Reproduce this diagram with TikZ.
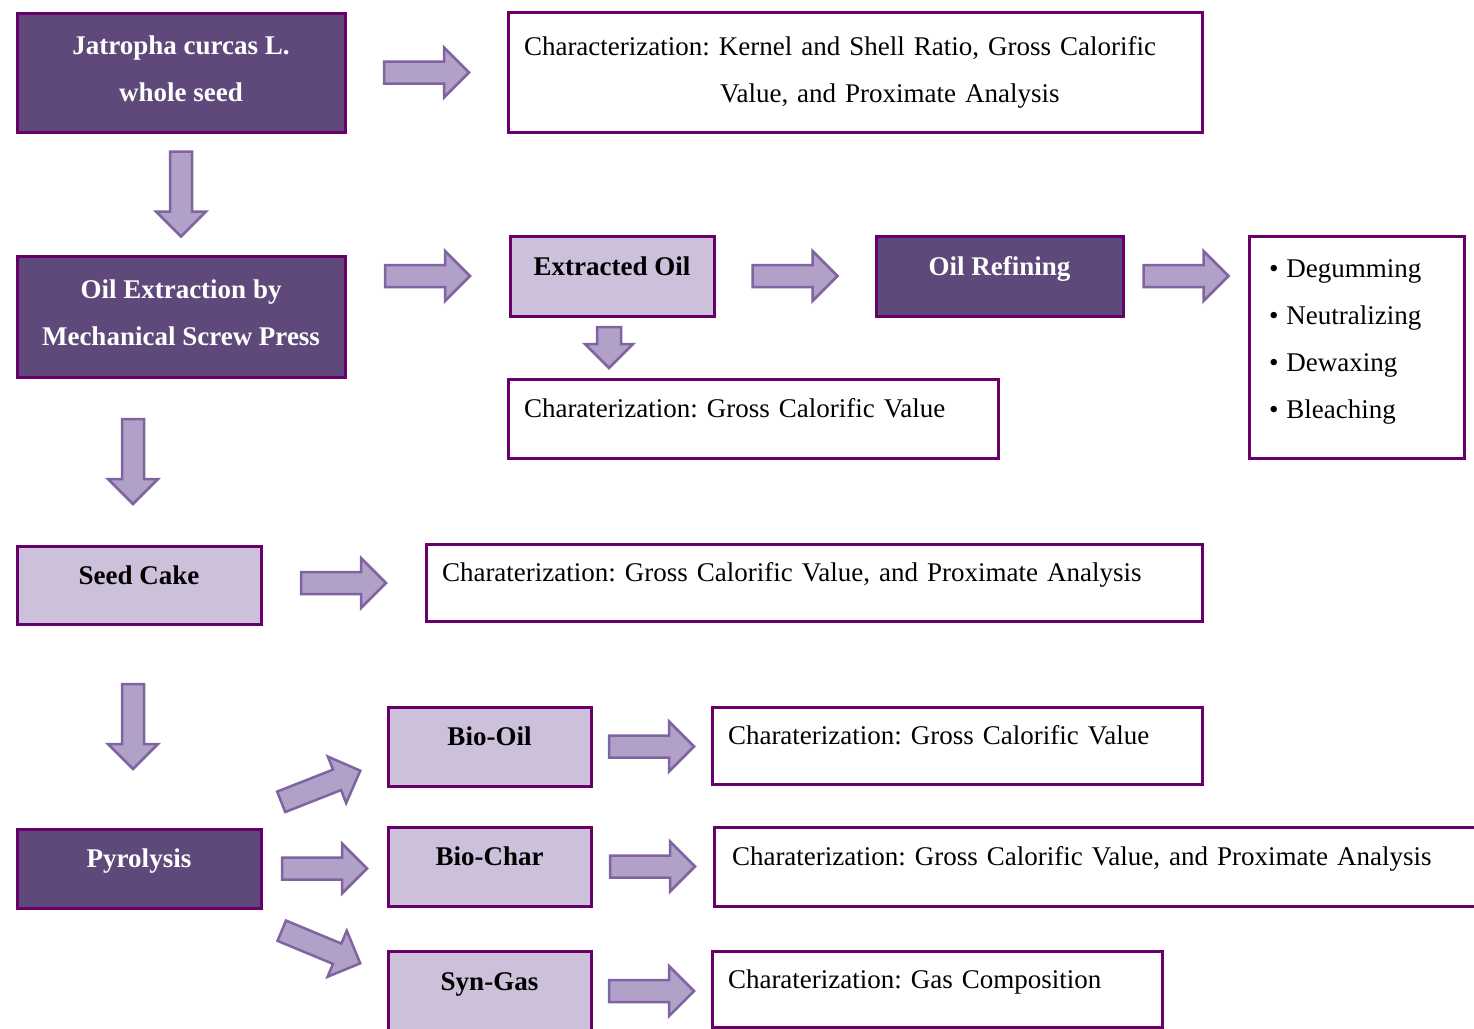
\documentclass[tikz,border=0pt]{standalone}
\usepackage{fontspec}
\setmainfont{Liberation Serif}
\usepackage{xcolor}
\usetikzlibrary{calc}

\definecolor{darkbox}{HTML}{5F497A}
\definecolor{boxline}{HTML}{690069}
\definecolor{lightbox}{HTML}{CCC0DA}
\definecolor{arrowfill}{HTML}{B1A0C7}
\definecolor{arrowline}{HTML}{8064A2}
\frenchspacing

\begin{document}
\begin{tikzpicture}[
    x=0.5pt, y=-0.5pt,
    box/.style={rectangle, draw=boxline, line width=1.5pt, inner sep=0pt, align=center, font=\bfseries\fontsize{13.5}{23.5}\selectfont},
    dark/.style={box, fill=darkbox, text=white},
    light/.style={box, fill=lightbox, text=black, oneline},
    info/.style={box, fill=white, align=left, inner xsep=8pt, font=\fontsize{13.5}{23.5}\selectfont},
    oneline/.style={text height=9.5pt, text depth=10.5pt},
    blkline/.style={draw=arrowline, fill=arrowfill, line width=1.25pt},
    blk/.pic={\draw[blkline] (-42.5,-11) -- (17.5,-11) -- (17.5,-25) -- (42.5,0) -- (17.5,25) -- (17.5,11) -- (-42.5,11) -- cycle;},
    blksmall/.pic={\draw[blkline] (-20.5,-12) -- (-3.5,-12) -- (-3.5,-24) -- (20.5,0) -- (-3.5,24) -- (-3.5,12) -- (-20.5,12) -- cycle;},
]
\useasboundingbox (0,0) rectangle (1474,1029);

% Nodes
\node[dark, minimum width=164pt, minimum height=59.5pt, text depth=4pt] (seed) at (181,72.5) {Jatropha curcas L.\\whole seed};
\node[info, text width=331pt, minimum height=60pt] (char1) at (855,72) {Characterization: Kernel and Shell Ratio, Gross Calorific\\\hspace*{98pt}Value, and Proximate Analysis};

\node[dark, minimum width=164pt, minimum height=60.5pt, text depth=4pt] (oilext) at (181,316.5) {Oil Extraction by\\Mechanical Screw Press};
\node[light, minimum width=102pt, minimum height=40pt] (extoil) at (612,276) {Extracted Oil};
\node[dark, oneline, minimum width=123.5pt, minimum height=40pt] (refine) at (999.5,276) {Oil Refining};
\node[info, text width=87.5pt, inner xsep=10pt, minimum height=111pt, text depth=78pt] (steps) at (1356.5,347)
  {\textbullet\hspace{4pt}Degumming\\\textbullet\hspace{4pt}Neutralizing\\\textbullet\hspace{4pt}Dewaxing\\\textbullet\hspace{4pt}Bleaching};
\node[info, oneline, text width=229pt, minimum height=39.5pt] (char2) at (753,418.5) {Charaterization: Gross Calorific Value};

\node[light, minimum width=122pt, minimum height=39pt] (cake) at (139,585) {Seed Cake};
\node[info, oneline, text width=372pt, minimum height=38.5pt] (char3) at (814,582.5) {Charaterization: Gross Calorific Value, and Proximate Analysis};

\node[dark, oneline, minimum width=122pt, minimum height=39.5pt] (pyro) at (139,868.5) {Pyrolysis};
\node[light, minimum width=101.5pt, minimum height=39.5pt] (biooil) at (489.5,746.5) {Bio-Oil};
\node[light, minimum width=101.5pt, minimum height=39.5pt] (biochar) at (489.5,866.5) {Bio-Char};
\node[light, minimum width=101.5pt, minimum height=40pt] (syngas) at (489.5,991) {Syn-Gas};
\node[info, oneline, text width=229pt, minimum height=38.5pt] (char4) at (957,745.5) {Charaterization: Gross Calorific Value};
\node[info, oneline, text width=365pt, inner xsep=9pt, minimum height=39.5pt] (char5) at (1097,866.5) {Charaterization: Gross Calorific Value, and Proximate Analysis};
\node[info, oneline, text width=209pt, minimum height=38pt] (char6) at (937,989) {Charaterization: Gas Composition};

% Arrows
\path (seed.east) -- (seed.east -| char1.west) pic[midway, sloped, allow upside down] {blk};
\path (seed.south) -- (oilext.north) pic[midway, sloped, allow upside down] {blk};
\path (oilext.east |- extoil.west) -- (extoil.west) pic[midway, sloped, allow upside down] {blk};
\path (extoil.east) -- (refine.west) pic[midway, sloped, allow upside down] {blk};
\path (refine.east) -- (steps.west |- refine.east) pic[midway, sloped, allow upside down] {blk};
\path ([xshift=-1.5pt]extoil.south) -- ([xshift=-1.5pt]extoil.south |- char2.north) pic[midway, sloped, allow upside down] {blksmall};
\path ([xshift=-3pt]cake.north |- oilext.south) -- ([xshift=-3pt]cake.north) pic[midway, sloped, allow upside down] {blk};
\path ([yshift=1pt]cake.east) -- ([yshift=1pt]cake.east -| char3.west) pic[midway, sloped, allow upside down] {blk};
\path ([xshift=-3pt]cake.south) -- ([xshift=-3pt]pyro.north) pic[midway, sloped, allow upside down] {blk};
\path ($(pyro.east)+(19.5,-67)$) -- ($(biooil.west)+(-27,24.5)$) pic[midway, sloped, allow upside down] {blk};
\path (pyro.east) -- (pyro.east -| biochar.west) pic[midway, sloped, allow upside down] {blk};
\path ($(pyro.east)+(20,62.5)$) -- ($(syngas.west)+(-27,-28)$) pic[midway, sloped, allow upside down] {blk};
\path (biooil.east) -- (biooil.east -| char4.west) pic[midway, sloped, allow upside down] {blk};
\path (biochar.east) -- (biochar.east -| char5.west) pic[midway, sloped, allow upside down] {blk};
\path (syngas.east) -- (syngas.east -| char6.west) pic[midway, sloped, allow upside down] {blk};

\end{tikzpicture}
\end{document}
